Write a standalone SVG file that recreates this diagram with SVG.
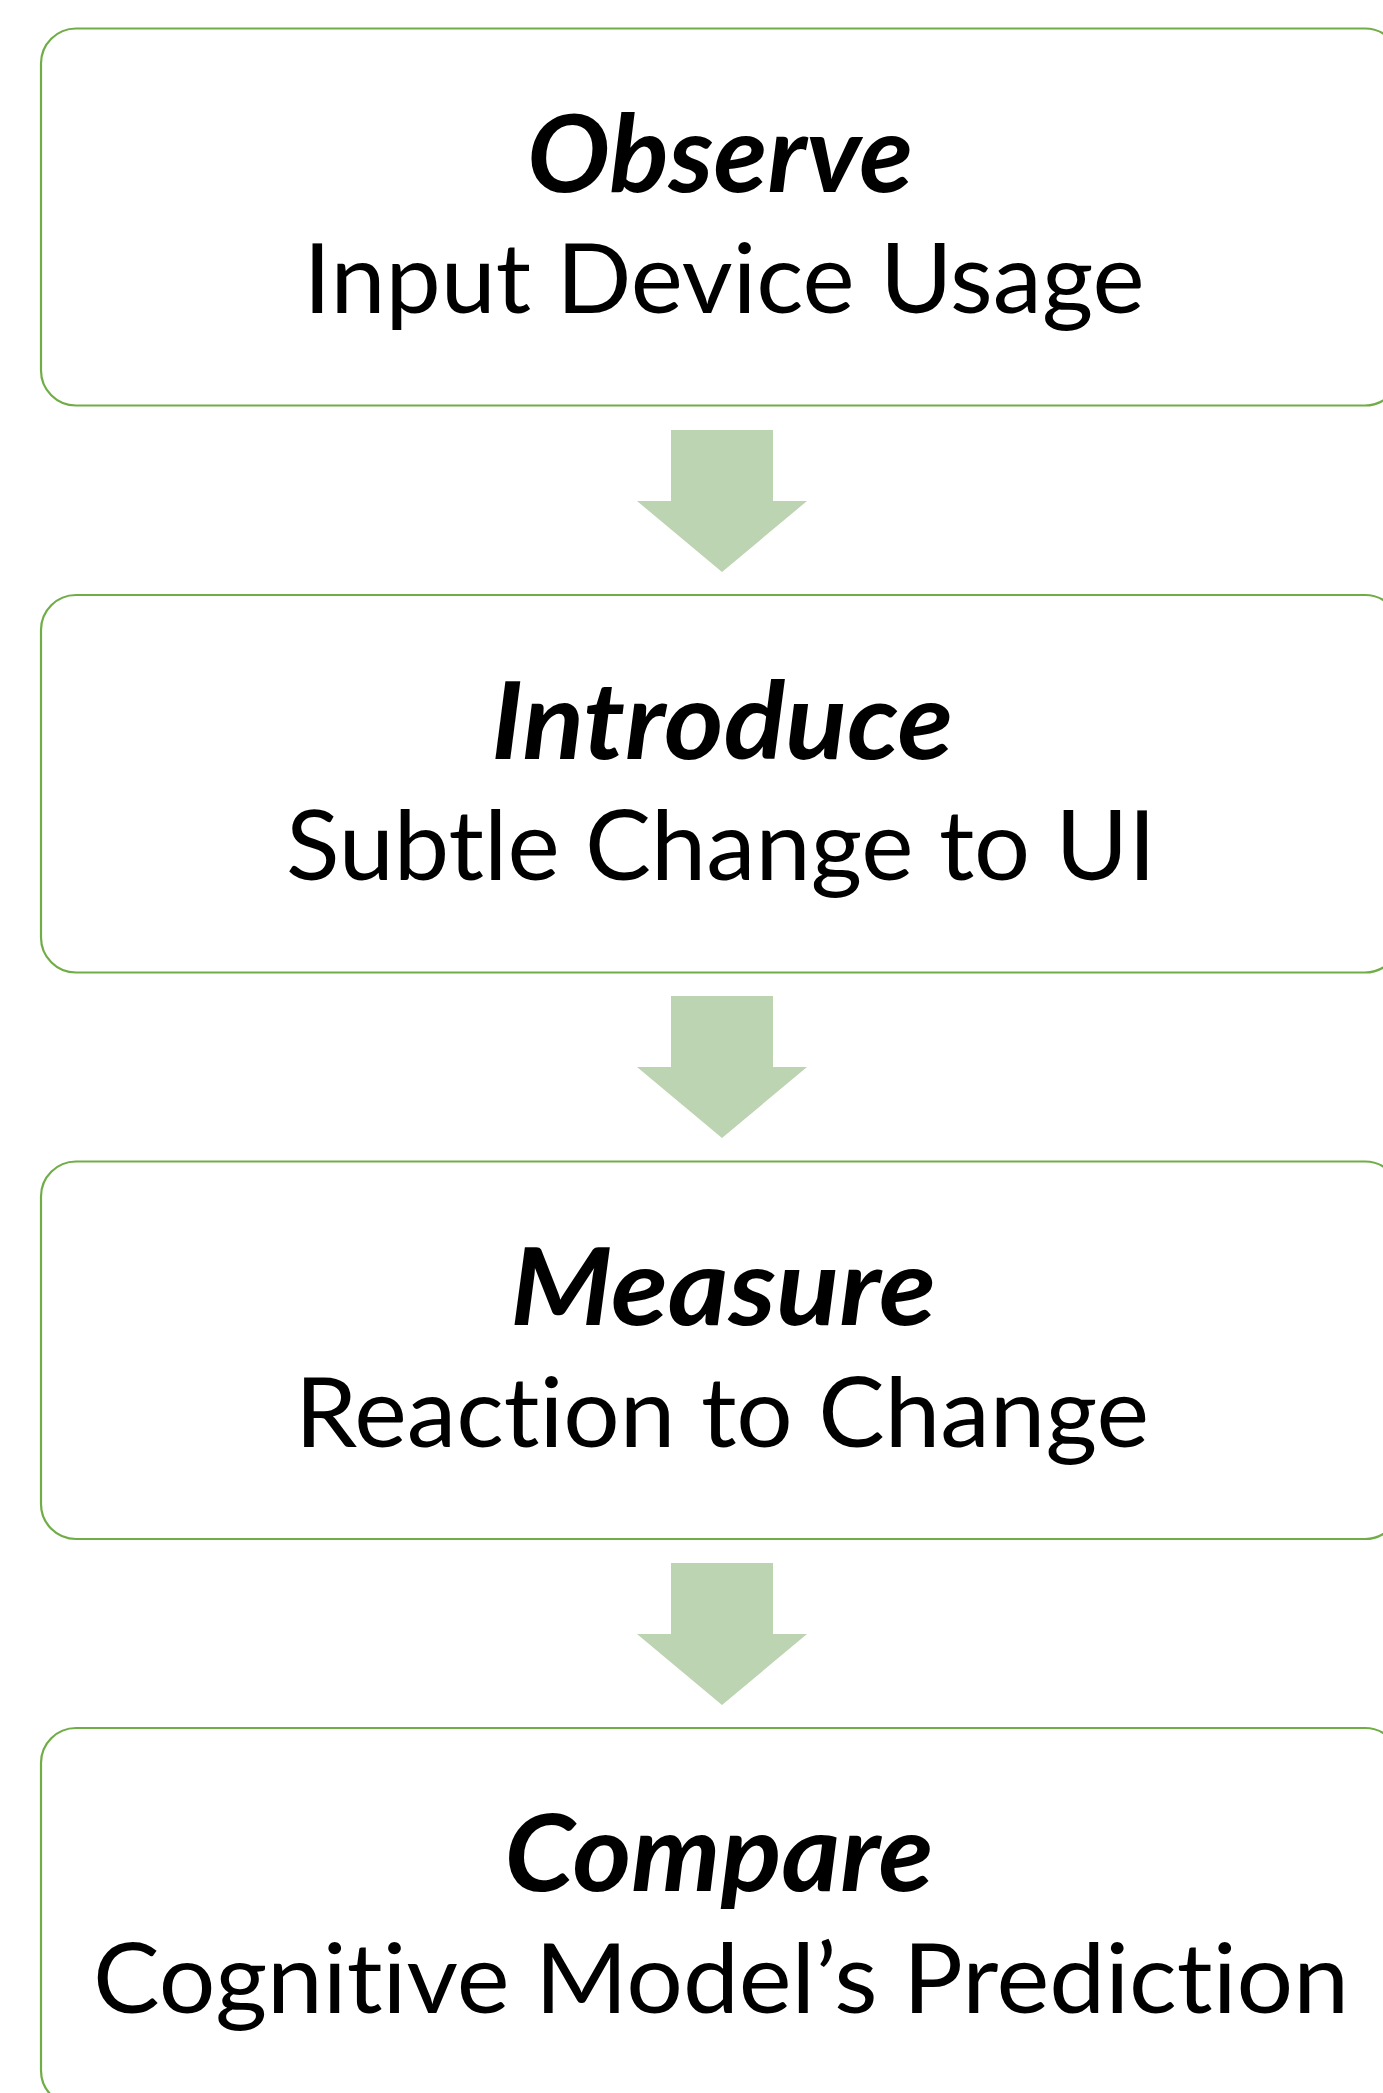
<svg xmlns="http://www.w3.org/2000/svg" width="1383" height="2093" viewBox="0 0 1383 2093">
<style>
.box{fill:#ffffff;stroke:#70AD47;stroke-width:2.2}
.arrow{fill:#BCD4B1}
.t{font-family:Lato,"Open Sans","Liberation Sans",sans-serif;font-size:107px;font-weight:bold;font-style:italic;fill:#000;text-anchor:middle;font-variant-ligatures:none;font-feature-settings:"liga" 0,"clig" 0,"dlig" 0}
.s{font-family:Lato,"Open Sans","Liberation Sans",sans-serif;font-size:96px;fill:#000;text-anchor:middle;font-variant-ligatures:none;font-feature-settings:"liga" 0,"clig" 0,"dlig" 0}
</style>
<rect width="1383" height="2093" fill="#ffffff"/>
<g id="connectors">
<polygon class="arrow" points="671,430 773,430 773,501 807,501 722,572 637,501 671,501"/>
<polygon class="arrow" points="671,996 773,996 773,1067 807,1067 722,1138 637,1067 671,1067"/>
<polygon class="arrow" points="671,1563 773,1563 773,1634 807,1634 722,1705 637,1634 671,1634"/>
</g>
<g id="observe">
<rect class="box" x="41" y="28.5" width="1359" height="377" rx="35" ry="35"/>
<text class="t" x="720" y="192" textLength="386" lengthAdjust="spacingAndGlyphs">Observe</text>
<text class="s" x="724" y="313" textLength="841" lengthAdjust="spacingAndGlyphs">Input Device Usage</text>
</g>
<g id="introduce">
<rect class="box" x="41" y="595" width="1359" height="377.5" rx="35" ry="35"/>
<text class="t" x="722" y="758.5" textLength="462" lengthAdjust="spacingAndGlyphs">Introduce</text>
<text class="s" x="721" y="880" textLength="870" lengthAdjust="spacingAndGlyphs">Subtle Change to UI</text>
</g>
<g id="measure">
<rect class="box" x="41" y="1161.5" width="1359" height="377.5" rx="35" ry="35"/>
<text class="t" x="723" y="1325" textLength="426" lengthAdjust="spacingAndGlyphs">Measure</text>
<text class="s" x="722" y="1446.5" textLength="854" lengthAdjust="spacingAndGlyphs">Reaction to Change</text>
</g>
<g id="compare">
<rect class="box" x="41" y="1728" width="1359" height="377.5" rx="35" ry="35"/>
<text class="t" x="719" y="1891" textLength="429" lengthAdjust="spacingAndGlyphs">Compare</text>
<text class="s" x="721" y="2013" textLength="1256" lengthAdjust="spacingAndGlyphs">Cognitive Model’s Prediction</text>
</g>
</svg>
